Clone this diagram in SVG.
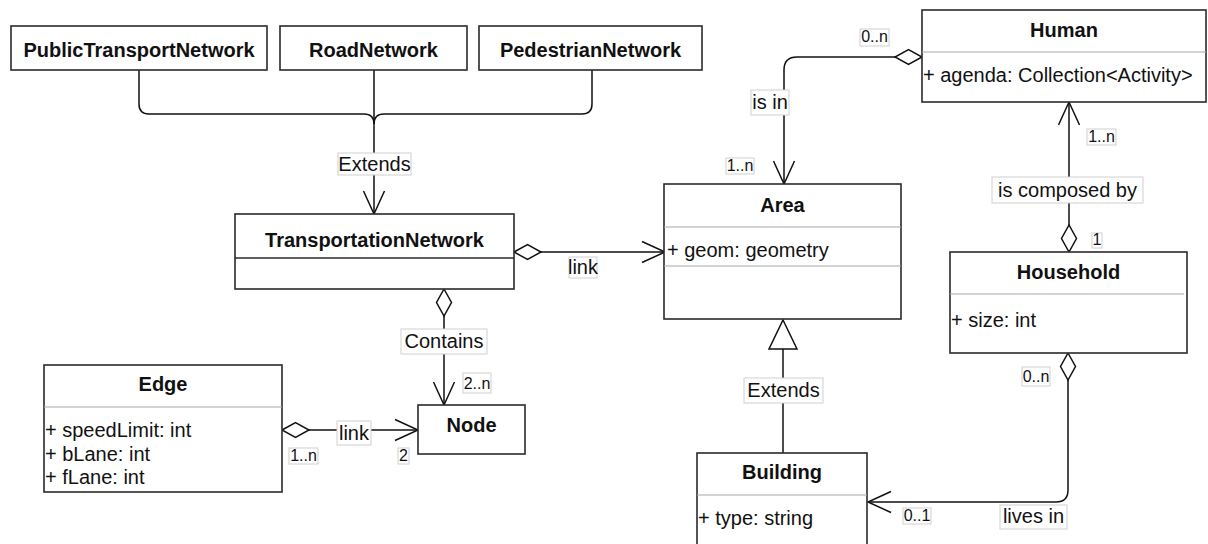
<svg xmlns="http://www.w3.org/2000/svg" width="1208" height="544" viewBox="0 0 1208 544">
<style>
.box{fill:#fff;stroke:#2a2a2a;stroke-width:1.6}
.div{stroke:#a8a8a8;stroke-width:1.2}
.divd{stroke:#2a2a2a;stroke-width:1.6}
.t{font-family:"Liberation Sans",Arial,sans-serif;font-size:20px;fill:#111}
.b{font-weight:bold;text-anchor:middle}
.lbl{fill:#fff;stroke:#cfcfcf;stroke-width:1}
.lt{font-family:"Liberation Sans",Arial,sans-serif;font-size:20px;fill:#111;text-anchor:middle}
.mt{font-family:"Liberation Sans",Arial,sans-serif;font-size:16px;fill:#111;text-anchor:middle}
.c{fill:none;stroke:#111;stroke-width:1.5}
</style>
<defs>
<marker id="arrow" markerUnits="userSpaceOnUse" viewBox="-26 -13 28 26" markerWidth="28" markerHeight="26" refX="0" refY="0" orient="auto" overflow="visible">
<path d="M-23,-10.5 L0,0 L-23,10.5" fill="none" stroke="#111" stroke-width="1.5"/>
</marker>
<marker id="diamond" markerUnits="userSpaceOnUse" viewBox="-1 -9 29 18" markerWidth="29" markerHeight="18" refX="0" refY="0" orient="auto" overflow="visible">
<path d="M0,0 L13.5,-7.5 L27,0 L13.5,7.5 Z" fill="#fff" stroke="#111" stroke-width="1.5"/>
</marker>
<marker id="tri" markerUnits="userSpaceOnUse" viewBox="-1 -16 32 32" markerWidth="32" markerHeight="32" refX="0" refY="0" orient="auto" overflow="visible">
<path d="M0,0 L29,-14 L29,14 Z" fill="#fff" stroke="#111" stroke-width="1.5"/>
</marker>
</defs>
<rect width="1208" height="544" fill="#fff"/>

<g id="connectors">
<path class="c" d="M139,70 V104 Q139,114 149,114 H364 Q374,114 374,124"/>
<path class="c" d="M592,70 V104 Q592,114 582,114 H384 Q374,114 374,124"/>
<path class="c" d="M374,70 V214" marker-end="url(#arrow)"/>
<path class="c" d="M922,57 H797 Q784,57 784,70 V184" marker-start="url(#diamond)" marker-end="url(#arrow)"/>
<path class="c" d="M514,252 H665" marker-start="url(#diamond)" marker-end="url(#arrow)"/>
<path class="c" d="M444,289 V405" marker-start="url(#diamond)" marker-end="url(#arrow)"/>
<path class="c" d="M282,430 H418" marker-start="url(#diamond)" marker-end="url(#arrow)"/>
<path class="c" d="M1069,252 V102" marker-start="url(#diamond)" marker-end="url(#arrow)"/>
<path class="c" d="M1068,353 V490 Q1068,502 1056,502 H868" marker-start="url(#diamond)" marker-end="url(#arrow)"/>
<path class="c" d="M783,320 V453" marker-start="url(#tri)"/>

<rect class="lbl" x="338" y="153" width="73" height="22"/><text class="lt" x="374.5" y="171">Extends</text>
<rect class="lbl" x="751" y="90" width="38" height="25"/><text class="lt" x="770" y="109">is in</text>
<rect class="lbl" x="569" y="257" width="28" height="21"/><text class="lt" x="583" y="274">link</text>
<rect class="lbl" x="401" y="329" width="86" height="25"/><text class="lt" x="444" y="348">Contains</text>
<rect class="lbl" x="992" y="177" width="151" height="26"/><text class="lt" x="1067.5" y="197">is composed by</text>
<rect class="lbl" x="744" y="378" width="79" height="25"/><text class="lt" x="783.5" y="397">Extends</text>
<rect class="lbl" x="337" y="421" width="34" height="24"/><text class="lt" x="354" y="440">link</text>
<rect class="lbl" x="1000" y="505" width="67" height="24"/><text class="lt" x="1033.5" y="523">lives in</text>

<rect class="lbl" x="860" y="29" width="29" height="17"/><text class="mt" x="874.5" y="42">0..n</text>
<rect class="lbl" x="726" y="158" width="28" height="16"/><text class="mt" x="740" y="171">1..n</text>
<rect class="lbl" x="1087" y="129" width="29" height="16"/><text class="mt" x="1101.5" y="142">1..n</text>
<rect class="lbl" x="1092" y="233" width="10" height="15"/><text class="mt" x="1097" y="245">1</text>
<rect class="lbl" x="1022" y="367" width="28" height="19"/><text class="mt" x="1036" y="382">0..n</text>
<rect class="lbl" x="463" y="373" width="28" height="20"/><text class="mt" x="477" y="389">2..n</text>
<rect class="lbl" x="289" y="448" width="29" height="16"/><text class="mt" x="303.5" y="461">1..n</text>
<rect class="lbl" x="398" y="448" width="11" height="16"/><text class="mt" x="403.5" y="461">2</text>
<rect class="lbl" x="903" y="508" width="28" height="16"/><text class="mt" x="917" y="521">0..1</text>
</g>

<g id="PublicTransportNetwork">
<rect class="box" x="11" y="26" width="256" height="44"/>
<text class="t b" x="139" y="57">PublicTransportNetwork</text>
</g>
<g id="RoadNetwork">
<rect class="box" x="280" y="26" width="187" height="44"/>
<text class="t b" x="373.5" y="57">RoadNetwork</text>
</g>
<g id="PedestrianNetwork">
<rect class="box" x="479" y="26" width="223" height="44"/>
<text class="t b" x="590.5" y="57">PedestrianNetwork</text>
</g>
<g id="TransportationNetwork">
<rect class="box" x="235" y="214" width="279" height="75"/>
<line class="divd" x1="235" y1="258" x2="514" y2="258"/>
<text class="t b" x="374.5" y="246.5">TransportationNetwork</text>
</g>
<g id="Human">
<rect class="box" x="922" y="10" width="284" height="92"/>
<line class="div" x1="922" y1="52" x2="1206" y2="52"/>
<text class="t b" x="1064" y="36.5">Human</text>
<text class="t" x="923" y="82">+ agenda: Collection&lt;Activity&gt;</text>
</g>
<g id="Area">
<rect class="box" x="664" y="184" width="237" height="135"/>
<line class="div" x1="664" y1="227" x2="901" y2="227"/>
<line class="div" x1="664" y1="266" x2="901" y2="266"/>
<text class="t b" x="782.5" y="211.5">Area</text>
<text class="t" x="667" y="256.5">+ geom: geometry</text>
</g>
<g id="Household">
<rect class="box" x="950" y="252" width="237" height="101"/>
<line class="div" x1="950" y1="294" x2="1184" y2="294"/>
<text class="t b" x="1068.5" y="279">Household</text>
<text class="t" x="951" y="327">+ size: int</text>
</g>
<g id="Edge">
<rect class="box" x="44" y="365" width="238" height="127"/>
<line class="div" x1="44" y1="407" x2="282" y2="407"/>
<text class="t b" x="163" y="391">Edge</text>
<text class="t" x="45" y="437">+ speedLimit: int</text>
<text class="t" x="45" y="460.5">+ bLane: int</text>
<text class="t" x="45" y="484">+ fLane: int</text>
</g>
<g id="Node">
<rect class="box" x="418" y="405" width="107" height="49"/>
<text class="t b" x="471.5" y="432">Node</text>
</g>
<g id="Building">
<rect class="box" x="697" y="453" width="170" height="110"/>
<line class="div" x1="697" y1="495" x2="867" y2="495"/>
<text class="t b" x="782" y="479">Building</text>
<text class="t" x="698" y="525">+ type: string</text>
</g>
</svg>
